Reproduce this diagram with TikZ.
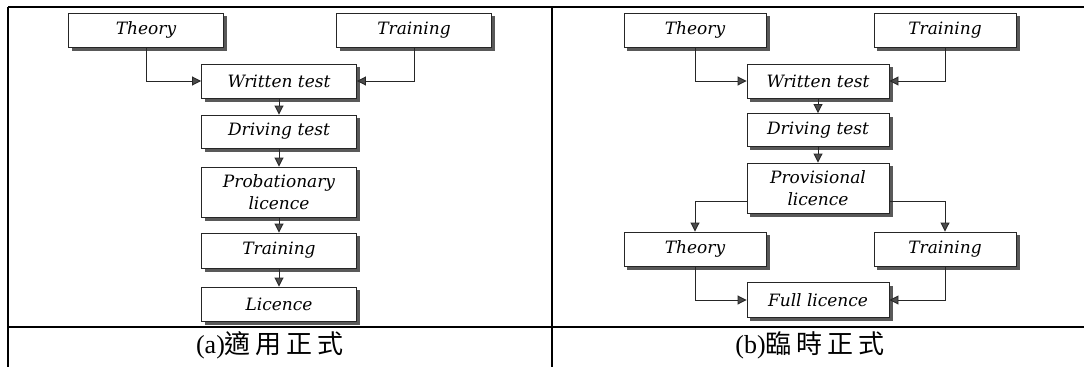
\documentclass[tikz,border=0pt]{standalone}
\usepackage{fontspec}
\setmainfont{Liberation Serif}
\newfontfamily\dvs{DejaVu Serif}
\newfontfamily\cjk{Noto Sans CJK TC}
\usetikzlibrary{arrows.meta}
\begin{document}
\begin{tikzpicture}[x=1pt,y=-1pt,
  box/.style={draw=black!85, line width=0.9pt, fill=white, inner sep=0pt, align=center,
    font=\dvs\itshape\fontsize{17}{22}\selectfont},
  wa/.style={box, minimum width=155pt, minimum height=34pt},
  wb/.style={box, minimum width=142pt, minimum height=34pt},
  shade/.style={fill=black!65},
  conn/.style={draw=black!85, line width=0.9pt, -{Triangle[length=9pt,width=9pt,fill=black!70]}},
  tbl/.style={line width=2.5pt, black},
  captext/.style={inner sep=0pt, font=\fontsize{26}{30}\selectfont}]
\useasboundingbox (0,0) rectangle (1084,367);
% table
\draw[tbl] (8,7) -- (1084,7);
\draw[tbl] (8,7) -- (8,367);
\draw[tbl] (552,7) -- (552,367);
\draw[tbl] (8,327) -- (1084,327);
% (a)
\node[wa] (T1) at (146,30) {Theory};
\node[wa] (R1) at (414,30) {Training};
\node[wa] (W1) at (279,81) {Written test};
\node[wa, minimum height=33pt] (D1) at (279,131.5) {Driving test};
\node[wa, minimum height=50pt] (P1) at (279,192) {Probationary\\licence};
\node[wa, minimum height=35pt] (Tr1) at (279,250.5) {Training};
\node[wa] (L1) at (279,304) {Licence};
% (b)
\node[wb] (T2) at (695,30) {Theory};
\node[wb] (R2) at (945,30) {Training};
\node[wb] (W2) at (818,81) {Written test};
\node[wb, minimum height=33pt] (D2) at (818,130) {Driving test};
\node[wb, minimum height=50pt] (P2) at (818,188) {Provisional\\licence};
\node[wb] (T3) at (695,249) {Theory};
\node[wb] (R3) at (945,249) {Training};
\node[wb, minimum height=35pt] (F2) at (818,300) {Full licence};
% shadows
\foreach \n in {T1,R1,W1,D1,P1,Tr1,L1,T2,R2,W2,D2,P2,T3,R3,F2}{
  \fill[shade] ([xshift=0.5pt,yshift=-3.5pt]\n.north east) rectangle ([xshift=3.5pt,yshift=-3.5pt]\n.south east);
  \fill[shade] ([xshift=3.5pt,yshift=-0.5pt]\n.south west) rectangle ([xshift=3.5pt,yshift=-3.5pt]\n.south east);
}
% connectors
\draw[conn] (T1.south) |- (W1.west);
\draw[conn] (R1.south) |- (W1.east);
\draw[conn] (W1.south) -- (D1.north);
\draw[conn] (D1.south) -- (P1.north);
\draw[conn] (P1.south) -- (Tr1.north);
\draw[conn] (Tr1.south) -- (L1.north);
\draw[conn] (T2.south) |- (W2.west);
\draw[conn] (R2.south) |- (W2.east);
\draw[conn] (W2.south) -- (D2.north);
\draw[conn] (D2.south) -- (P2.north);
\draw[conn] ([yshift=-13pt]P2.west) -| (T3.north);
\draw[conn] ([yshift=-13pt]P2.east) -| (R3.north);
\draw[conn] (T3.south) |- (F2.west);
\draw[conn] (R3.south) |- (F2.east);
% captions
\node[captext] (ca) at (270,345) {(a)\cjk 適\hspace{5pt}用\hspace{5pt}正\hspace{5pt}式};
\node[captext] (cb) at (810,345) {(b)\cjk 臨\hspace{5pt}時\hspace{5pt}正\hspace{5pt}式};
\end{tikzpicture}
\end{document}
